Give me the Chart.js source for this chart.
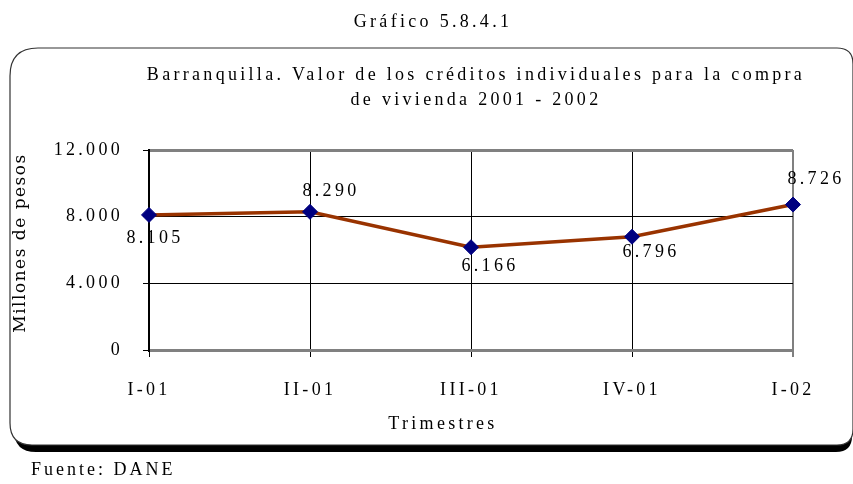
<!DOCTYPE html>
<html>
<head>
<meta charset="utf-8">
<script src="https://cdn.jsdelivr.net/npm/chart.js@4"></script>
<style>
  html, body { margin:0; padding:0; background:#fff; }
  canvas { display:block; }
</style>
</head>
<body>
<canvas id="chart" width="853" height="484"></canvas>
<script>
  // ── DATA ───────────────────────────────────────────────────────────────────
  const categories = ['I-01', 'II-01', 'III-01', 'IV-01', 'I-02'];
  const valores    = [8105, 8290, 6166, 6796, 8726];
  const yTicks     = [0, 4000, 8000, 12000];

  // label offset from its point (dx, dy), Excel-ish placement
  const labelOffsets = [[6,23],[21,-21],[19,19],[19,16],[23,-25]];

  const SERIF  = '"Liberation Serif", "Times New Roman", serif';
  const SIZE   = 18;
  const SPACED = '3.3px';

  const fmt = n => Number(n).toLocaleString('de-DE');

  function roundRect(ctx, x, y, w, h, r) {
    // r = [tl, tr, br, bl]
    ctx.beginPath();
    ctx.moveTo(x + r[0], y);
    ctx.lineTo(x + w - r[1], y);
    ctx.quadraticCurveTo(x + w, y, x + w, y + r[1]);
    ctx.lineTo(x + w, y + h - r[2]);
    ctx.quadraticCurveTo(x + w, y + h, x + w - r[2], y + h);
    ctx.lineTo(x + r[3], y + h);
    ctx.quadraticCurveTo(x, y + h, x, y + h - r[3]);
    ctx.lineTo(x, y + r[0]);
    ctx.quadraticCurveTo(x, y, x + r[0], y);
    ctx.closePath();
  }

  function text(ctx, str, x, y, opts={}) {
    ctx.save();
    ctx.font = opts.font || `${SIZE}px ${SERIF}`;
    ctx.letterSpacing = opts.spacing || SPACED;
    ctx.fillStyle = '#000';
    ctx.textAlign = opts.align || 'center';
    ctx.textBaseline = 'middle';
    ctx.translate(x, y);
    if (opts.rotate) ctx.rotate(opts.rotate);
    ctx.fillText(str, 0, 0);
    ctx.restore();
  }

  // ── PLUGINS ────────────────────────────────────────────────────────────────
  const frame = {
    id: 'frame',
    beforeUpdate(chart) { chart.ctx.letterSpacing = SPACED; },
    beforeDraw(chart) {
      const ctx = chart.ctx;
      ctx.letterSpacing = SPACED;
      ctx.save();
      // shadow
      ctx.fillStyle = '#000';
      roundRect(ctx, 14, 54, 838, 398, [28,16,16,22]);
      ctx.fill();
      // box
      ctx.fillStyle = '#fff';
      roundRect(ctx, 10, 48, 843, 397, [28,16,16,22]);
      ctx.fill();
      ctx.strokeStyle = '#333';
      ctx.lineWidth = 1.2;
      ctx.stroke();
      ctx.restore();
    },
    afterDraw(chart) {
      const ctx = chart.ctx;
      text(ctx, 'Gráfico 5.8.4.1', 433, 22);
      text(ctx, 'Barranquilla. Valor de los créditos individuales para la compra', 476, 75);
      text(ctx, 'de vivienda 2001 - 2002', 476, 100);
      text(ctx, 'Trimestres', 443, 424);
      text(ctx, 'Fuente: DANE', 31, 470, {align:'left', spacing:'3px'});
      text(ctx, 'Millones de pesos', 21, 243, {
        font: `17px "DejaVu Serif", serif`, spacing: '1.5px', rotate: -Math.PI/2
      });
    },
    afterDatasetsDraw(chart) {
      const ctx = chart.ctx;
      const meta = chart.getDatasetMeta(0);
      meta.data.forEach((pt, i) => {
        const [dx, dy] = labelOffsets[i];
        text(ctx, fmt(valores[i]), pt.x + dx, pt.y + dy);
      });
    }
  };

  // ── CHART ──────────────────────────────────────────────────────────────────
  new Chart(document.getElementById('chart'), {
    type: 'line',
    data: {
      labels: categories,
      datasets: [{
        data: valores,
        borderColor: '#993300',
        borderWidth: 3.5,
        tension: 0,
        pointStyle: 'rectRot',
        pointRadius: 7.5,
        pointHoverRadius: 7.5,
        pointBackgroundColor: '#000080',
        pointBorderColor: '#000080',
        pointBorderWidth: 1,
        clip: false,
      }]
    },
    options: {
      responsive: false,
      animation: false,
      events: [],
      layout: { padding: { left: 0, top: 150, right: 60, bottom: 34 } },
      plugins: { legend: { display:false }, tooltip: { enabled:false }, title: { display:false } },
      scales: {
        x: {
          offset: false,
          afterFit: s => { s.height = 100; },
          grid: {
            color: c => c.index === categories.length - 1 ? '#808080' : '#000',
            lineWidth: c => c.index === categories.length - 1 ? 2 : 1,
            tickColor: '#000',
            tickWidth: 1,
            tickLength: 7,
          },
          border: { color: '#808080', width: 3 },
          ticks: { color:'#000', padding: 22, maxRotation: 0, font: { family: SERIF, size: SIZE } },
        },
        y: {
          min: 0,
          max: 12000,
          afterFit: s => { s.width = 149; },
          afterBuildTicks: s => { s.ticks = yTicks.map(v => ({ value: v })); },
          grid: {
            color: c => (c.tick.value === 12000 || c.tick.value === 0) ? '#808080' : '#000',
            lineWidth: c => (c.tick.value === 12000 || c.tick.value === 0) ? 3 : 1,
            tickColor: '#000',
            tickWidth: 1,
            tickLength: 6,
          },
          border: { color: '#000', width: 2 },
          ticks: { color:'#000', padding: 20, callback: v => fmt(v), font: { family: SERIF, size: SIZE } },
        }
      }
    },
    plugins: [frame]
  });
</script>
</body>
</html>
